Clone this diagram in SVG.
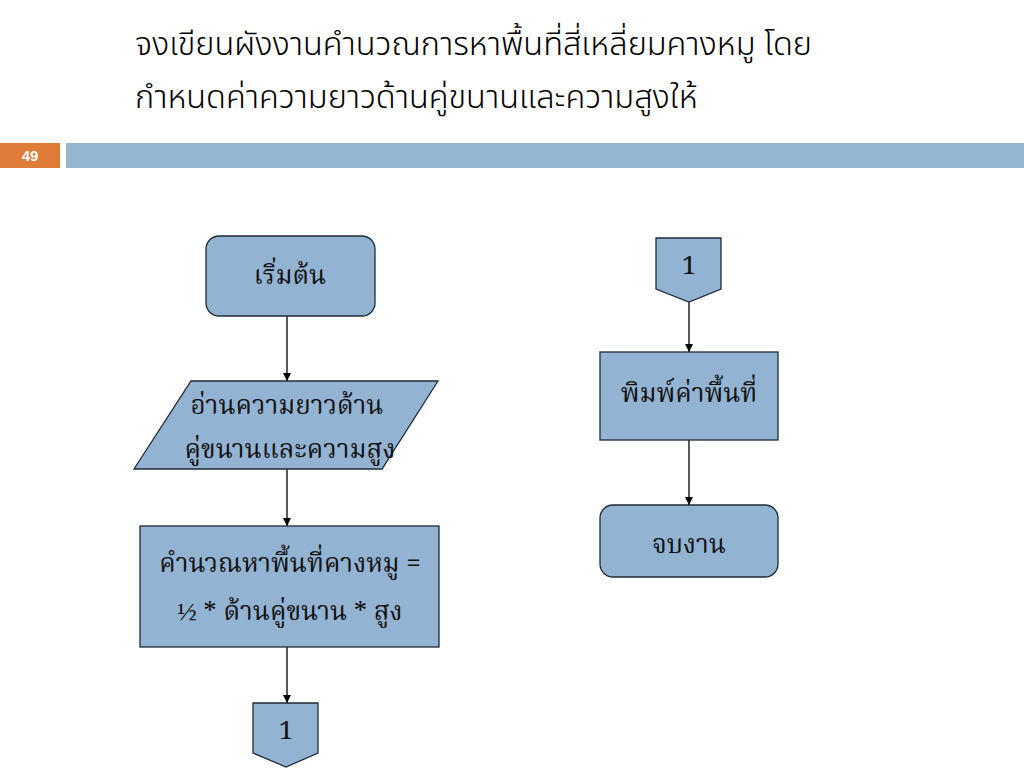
<svg xmlns="http://www.w3.org/2000/svg" width="1024" height="768" viewBox="0 0 1024 768">
<style>
.title{font-family:"Noto Sans Thai","Liberation Sans","Noto Sans",sans-serif;font-size:32.5px;font-weight:300;fill:#000}
.node{fill:#93B3D3;stroke:#1F2A36;stroke-width:1.3}
.lbl{font-family:"Noto Serif Thai","Liberation Serif",serif;font-size:26px;fill:#111;text-anchor:middle}
.edge{stroke:#000;stroke-width:1.3;fill:none;marker-end:url(#arr)}
</style>
<defs>
<marker id="arr" viewBox="0 0 10 10" refX="10" refY="5" markerWidth="8" markerHeight="8" markerUnits="userSpaceOnUse" orient="auto">
<path d="M0,0 L10,5 L0,10 z" fill="#000"/>
</marker>
</defs>
<rect width="1024" height="768" fill="#fff"/>
<text class="title" x="135" y="55">จงเขียนผังงานคำนวณการหาพื้นที่สี่เหลี่ยมคางหมู โดย</text>
<text class="title" x="135" y="108">กำหนดค่าความยาวด้านคู่ขนานและความสูงให้</text>
<rect x="0" y="143" width="60" height="25" fill="#E07B39"/>
<rect x="66" y="143" width="958" height="25" fill="#93B6D3"/>
<text x="30" y="161" font-family="Liberation Sans,sans-serif" font-size="15" font-weight="bold" fill="#fff" text-anchor="middle">49</text>
<g id="connectors">
<line class="edge" x1="287" y1="316" x2="287" y2="381"/>
<line class="edge" x1="287" y1="469" x2="287" y2="526"/>
<line class="edge" x1="287" y1="647" x2="287" y2="703"/>
<line class="edge" x1="689" y1="302" x2="689" y2="352"/>
<line class="edge" x1="689" y1="440" x2="689" y2="505"/>
</g>
<g id="start">
<rect class="node" x="206" y="236" width="169" height="80" rx="13"/>
<text class="lbl" x="290" y="284">เริ่มต้น</text>
</g>
<g id="input">
<polygon class="node" points="191,381 438,381 382,469 134,469"/>
<text class="lbl" x="287" y="414">อ่านความยาวด้าน</text>
<text class="lbl" x="290" y="458">คู่ขนานและความสูง</text>
</g>
<g id="process">
<rect class="node" x="140" y="526" width="299" height="121"/>
<text class="lbl" x="290" y="572">คำนวณหาพื้นที่คางหมู =</text>
<text class="lbl" x="290" y="620">½ * ด้านคู่ขนาน * สูง</text>
</g>
<g id="offpage1">
<polygon class="node" points="253,703 318,703 318,753 286,767 253,753"/>
<text class="lbl" x="286" y="739">1</text>
</g>
<g id="offpage2">
<polygon class="node" points="656,238 721,238 721,289 689,302 656,289"/>
<text class="lbl" x="689" y="274">1</text>
</g>
<g id="print">
<rect class="node" x="600" y="352" width="178" height="88"/>
<text class="lbl" x="689" y="402">พิมพ์ค่าพื้นที่</text>
</g>
<g id="end">
<rect class="node" x="600" y="505" width="178" height="72" rx="13"/>
<text class="lbl" x="689" y="553">จบงาน</text>
</g>
</svg>
